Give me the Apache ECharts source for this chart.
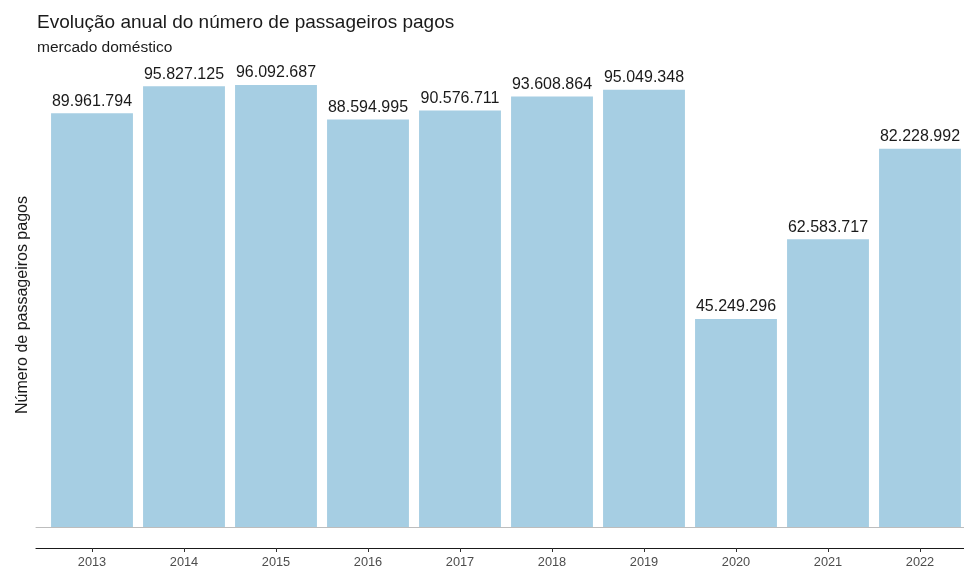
<!DOCTYPE html>
<html>
<head>
<meta charset="utf-8">
<script src="https://cdn.jsdelivr.net/npm/echarts@6/dist/echarts.min.js"></script>
<style>
  html, body { margin: 0; padding: 0; background: #ffffff; }
  #chart { width: 964px; height: 568px; }
</style>
</head>
<body>
<div id="chart"></div>
<script>
// Passageiros pagos no mercado doméstico, por ano
const years = ['2013', '2014', '2015', '2016', '2017', '2018', '2019', '2020', '2021', '2022'];
const passengers = [89961794, 95827125, 96092687, 88594995, 90576711, 93608864, 95049348, 45249296, 62583717, 82228992];

const titleText = 'Evolução anual do número de passageiros pagos';
const subtitleText = 'mercado doméstico';
const yName = 'Número de passageiros pagos';

// Brazilian thousands separator: 89961794 -> 89.961.794
function fmt(v) {
  return String(v).replace(/\B(?=(\d{3})+(?!\d))/g, '.');
}

const chart = echarts.init(document.getElementById('chart'), null, { renderer: 'canvas' });
const font = '"Liberation Sans", Arial, sans-serif';

const noParts = {
  axisTick: { show: false },
  axisLabel: { show: false },
  splitLine: { show: false }
};

chart.setOption({
  animation: false,
  backgroundColor: '#ffffff',
  textStyle: { fontFamily: font },
  title: {
    text: titleText,
    subtext: subtitleText,
    left: 32,
    top: 8,
    itemGap: 8,
    textStyle: { fontFamily: font, fontSize: 19, fontWeight: 'normal', color: '#1a1a1a' },
    subtextStyle: { fontFamily: font, fontSize: 15.5, color: '#1a1a1a' }
  },
  grid: [
    // bar panel
    { left: 46, right: -2, top: 62, bottom: 20, containLabel: false, outerBoundsMode: 'none' },
    // strip below the bars: zero line on top, axis line at the bottom
    { left: 36, right: 0, top: 527, bottom: 20, containLabel: false, outerBoundsMode: 'none' }
  ],
  xAxis: [
    {
      type: 'category',
      gridIndex: 0,
      data: years,
      boundaryGap: true,
      axisLine: { show: false, onZero: false },
      axisTick: { show: true, alignWithLabel: true, length: 4, lineStyle: { color: '#333333' } },
      axisLabel: { fontFamily: font, fontSize: 12.8, color: '#4d4d4d', margin: 8 },
      splitLine: { show: false }
    },
    Object.assign({
      type: 'value', gridIndex: 1, position: 'bottom', min: 0, max: 1,
      axisLine: { show: true, onZero: false, lineStyle: { color: '#1a1a1a', width: 1.2 } }
    }, noParts),
    Object.assign({
      type: 'value', gridIndex: 1, position: 'top', min: 0, max: 1,
      axisLine: { show: true, onZero: false, lineStyle: { color: '#bdbdbd', width: 1 } }
    }, noParts)
  ],
  yAxis: [
    {
      type: 'value',
      gridIndex: 0,
      min: -4565000,
      max: 101100000,
      name: yName,
      nameLocation: 'middle',
      nameGap: 15,
      nameTextStyle: { fontFamily: font, fontSize: 16, color: '#1a1a1a' },
      axisLine: { show: false },
      axisTick: { show: false },
      axisLabel: { show: false },
      splitLine: { show: false }
    },
    Object.assign({
      type: 'value', gridIndex: 1, min: 0, max: 1,
      axisLine: { show: false }
    }, noParts)
  ],
  series: [{
    type: 'bar',
    xAxisIndex: 0,
    yAxisIndex: 0,
    data: passengers,
    barWidth: '89%',
    itemStyle: { color: '#a6cee3' },
    z: 3,
    label: {
      show: true,
      position: 'top',
      distance: 4,
      formatter: p => fmt(p.value),
      fontFamily: font,
      fontSize: 16,
      color: '#1a1a1a'
    }
  }]
});
</script>
</body>
</html>
